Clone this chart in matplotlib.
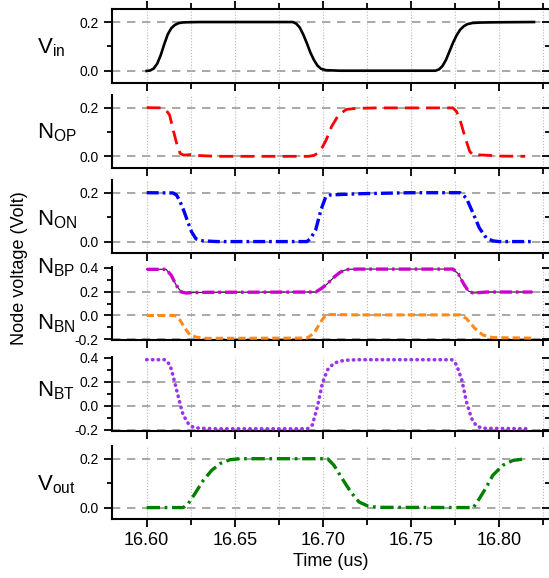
import matplotlib
matplotlib.use("Agg")
import matplotlib.pyplot as plt
from matplotlib.ticker import MultipleLocator

plt.rcParams['font.family'] = ['Liberation Sans', 'DejaVu Sans']
plt.rcParams['mathtext.default'] = 'regular'

# ---- data (time in us, voltage in V) ----
t_vin = [16.600, 16.602, 16.604, 16.606, 16.608, 16.610, 16.612, 16.614, 16.616, 16.618, 16.620, 16.623,
         16.630, 16.683, 16.685, 16.687, 16.689, 16.691, 16.693, 16.695, 16.697, 16.699, 16.702, 16.710,
         16.764, 16.766, 16.768, 16.770, 16.772, 16.774, 16.776, 16.778, 16.780, 16.782, 16.785, 16.790,
         16.800, 16.820]
v_vin = [0.000, 0.002, 0.010, 0.030, 0.065, 0.110, 0.150, 0.175, 0.188, 0.195, 0.198, 0.199,
         0.200, 0.200, 0.193, 0.177, 0.148, 0.113, 0.075, 0.045, 0.022, 0.009, 0.003, 0.001,
         0.001, 0.006, 0.020, 0.045, 0.080, 0.115, 0.145, 0.168, 0.182, 0.191, 0.196, 0.198,
         0.199, 0.200]

t_nop = [16.600, 16.609, 16.611, 16.613, 16.615, 16.617, 16.619, 16.621, 16.625, 16.630, 16.640,
         16.692, 16.695, 16.6975, 16.700, 16.702, 16.705, 16.709, 16.7135, 16.719, 16.730,
         16.774, 16.776, 16.778, 16.7807, 16.7835, 16.7855, 16.788, 16.795, 16.800, 16.815]
v_nop = [0.200, 0.199, 0.190, 0.170, 0.110, 0.054, 0.012, 0.005, 0.007, 0.003, 0.000,
         0.000, 0.004, 0.014, 0.040, 0.068, 0.122, 0.170, 0.193, 0.197, 0.199,
         0.199, 0.184, 0.150, 0.082, 0.020, 0.004, 0.006, 0.004, 0.001, 0.000]

t_non = [16.600, 16.615, 16.617, 16.619, 16.621, 16.623, 16.6255, 16.628, 16.632, 16.640,
         16.691, 16.693, 16.696, 16.699, 16.7017, 16.7045, 16.722, 16.750,
         16.778, 16.7816, 16.7854, 16.789, 16.793, 16.7966, 16.800, 16.820]
v_non = [0.200, 0.199, 0.190, 0.163, 0.128, 0.088, 0.040, 0.011, 0.003, 0.000,
         0.000, 0.012, 0.048, 0.130, 0.183, 0.191, 0.196, 0.200,
         0.200, 0.178, 0.116, 0.055, 0.014, 0.003, 0.000, 0.000]

t_nbp = [16.600, 16.611, 16.614, 16.6168, 16.6197, 16.6225, 16.627, 16.635,
         16.696, 16.699, 16.702, 16.7045, 16.707, 16.710, 16.712, 16.7148, 16.720,
         16.774, 16.777, 16.780, 16.7827, 16.7854, 16.793, 16.819]
v_nbp = [0.388, 0.388, 0.337, 0.253, 0.197, 0.189, 0.193, 0.195,
         0.197, 0.225, 0.258, 0.294, 0.330, 0.364, 0.378, 0.388, 0.390,
         0.390, 0.350, 0.267, 0.206, 0.189, 0.197, 0.197]

t_nbn = [16.600, 16.616, 16.6189, 16.6218, 16.6246, 16.6284, 16.634,
         16.691, 16.695, 16.6989, 16.7017, 16.7045, 16.720,
         16.778, 16.7816, 16.7864, 16.791, 16.7966, 16.819]
v_nbn = [0.000, 0.000, -0.039, -0.108, -0.164, -0.183, -0.192,
         -0.190, -0.150, -0.053, 0.003, 0.008, 0.005,
         0.005, -0.025, -0.108, -0.164, -0.186, -0.190]

t_nbt = [16.600, 16.6104, 16.6132, 16.6151, 16.617, 16.6189, 16.6207, 16.6236, 16.6264, 16.6302, 16.640,
         16.6913, 16.6941, 16.697, 16.6998, 16.7027, 16.7064, 16.7121, 16.720,
         16.7733, 16.776, 16.779, 16.7816, 16.7845, 16.7873, 16.791, 16.8176]
v_nbt = [0.385, 0.385, 0.343, 0.245, 0.133, 0.022, -0.075, -0.145, -0.178, -0.186, -0.190,
         -0.190, -0.158, -0.006, 0.190, 0.300, 0.357, 0.380, 0.385,
         0.385, 0.343, 0.217, 0.036, -0.103, -0.167, -0.186, -0.190]

t_vout = [16.600, 16.6208, 16.6236, 16.6274, 16.6322, 16.6369, 16.6417, 16.6473, 16.653,
          16.7027, 16.7064, 16.7111, 16.7159, 16.7206, 16.7254, 16.731,
          16.7856, 16.789, 16.793, 16.7966, 16.8023, 16.808, 16.8155]
v_vout = [0.000, 0.000, 0.016, 0.057, 0.112, 0.152, 0.180, 0.196, 0.200,
          0.200, 0.173, 0.118, 0.064, 0.023, 0.007, 0.001,
          0.000, 0.037, 0.084, 0.132, 0.173, 0.193, 0.200]

xticks = [16.60, 16.65, 16.70, 16.75, 16.80]

# ---- layout (pixel based, panels stacked) ----
W, H = 549, 578
fig = plt.figure(figsize=(W / 100, H / 100), dpi=100)

def panel(top, bottom):
    return fig.add_axes([112 / W, 1 - bottom / H, 438 / W, (bottom - top) / H])

def style(ax, ylim, major, minor, grid_y, top_axis=False, last=False):
    ax.set_xlim(16.5803, 16.8291)
    ax.set_ylim(*ylim)
    ax.xaxis.set_major_locator(MultipleLocator(0.05))
    ax.xaxis.set_minor_locator(MultipleLocator(0.025))
    ax.yaxis.set_major_locator(MultipleLocator(major))
    ax.yaxis.set_minor_locator(MultipleLocator(minor))
    ax.xaxis.grid(True, which='both', ls=':', color='#b8b8b8', lw=0.8)
    for g in grid_y:
        ax.axhline(g, color='#999999', lw=1.2, ls=(0, (5, 4)), zorder=1)
    for s in ax.spines.values():
        s.set_linewidth(1.5)
    ax.spines['top'].set_visible(top_axis)
    ax.tick_params(axis='y', which='both', left=True, right=True, labelsize=10, width=1.3)
    ax.tick_params(axis='y', which='major', direction='out', length=6)
    ax.tick_params(axis='y', which='minor', direction='out', length=3.5)
    ax.tick_params(axis='x', which='both', direction='out', top=top_axis, width=1.3)
    ax.tick_params(axis='x', which='major', length=6)
    ax.tick_params(axis='x', which='minor', length=4)
    # right-hand ticks point inward
    for tk in ax.yaxis.get_major_ticks() + ax.yaxis.get_minor_ticks():
        tk.tick2line.set_marker(matplotlib.lines.TICKLEFT)
    ax.tick_params(axis='x', labelbottom=last, labelsize=13, pad=3)
    ax.yaxis.set_major_formatter(matplotlib.ticker.FormatStrFormatter('%.1f'))
    ax.set_xticks(xticks)

small = (-0.048, 0.252)
big = (-0.206, 0.41)

ax1 = panel(9.3, 82.7)
ax1.plot(t_vin, v_vin, color='black', lw=1.9, zorder=3)
style(ax1, small, 0.2, 0.1, [0.0, 0.2], top_axis=True)

ax2 = panel(95, 168)
ax2.plot(t_nop, v_nop, color='#ff0000', lw=2.0, ls=(0, (5, 2.6)), zorder=3)
style(ax2, small, 0.2, 0.1, [0.0, 0.2])

ax3 = panel(180, 253.3)
ax3.plot(t_non, v_non, color='#0000ff', lw=2.4, ls=(0, (3.6, 1.2, 0.8, 1.2)), zorder=3)
style(ax3, small, 0.2, 0.1, [0.0, 0.2])

ax4 = panel(266.7, 340)
ax4.plot(t_nbp, v_nbp, color='#333333', lw=0.9, zorder=3)
ax4.plot(t_nbp, v_nbp, color='#cc00cc', lw=2.4, ls=(0, (3.6, 1.2, 0.8, 1.2)), zorder=4)
ax4.plot(t_nbn, v_nbn, color='#ff8a1a', lw=2.2, ls=(0, (2.4, 1.3)), zorder=3)
style(ax4, big, 0.2, 0.1, [-0.2, 0.0, 0.2])

ax5 = panel(356.7, 430.7)
ax5.plot(t_nbt, v_nbt, color='#9933ee', lw=2.6, ls=(0, (0.1, 1.5)), dash_capstyle='round', zorder=3)
style(ax5, big, 0.2, 0.1, [-0.2, 0.0, 0.2])

ax6 = panel(446, 519.3)
ax6.plot(t_vout, v_vout, color='#008000', lw=2.4, ls=(0, (4, 1.4, 0.8, 1.4)), zorder=3)
style(ax6, small, 0.2, 0.1, [0.0, 0.2], last=True)

# panel names
names = [(r'$V_{in}$', 53.3), (r'$N_{OP}$', 138.3), (r'$N_{ON}$', 225), (r'$N_{BP}$', 273.3),
         (r'$N_{BN}$', 329.3), (r'$N_{BT}$', 396.7), (r'$V_{out}$', 490)]
for txt, base in names:
    fig.text(37 / W, 1 - base / H, txt, fontsize=16, ha='left', va='baseline')

fig.text(20 / W, 1 - 268.5 / H, 'Node voltage (Volt)', rotation=90, fontsize=13, ha='center', va='center')
fig.text(331 / W, 1 - 562 / H, 'Time (us)', fontsize=13, ha='center', va='center')

fig.savefig('out.png', dpi=100)
